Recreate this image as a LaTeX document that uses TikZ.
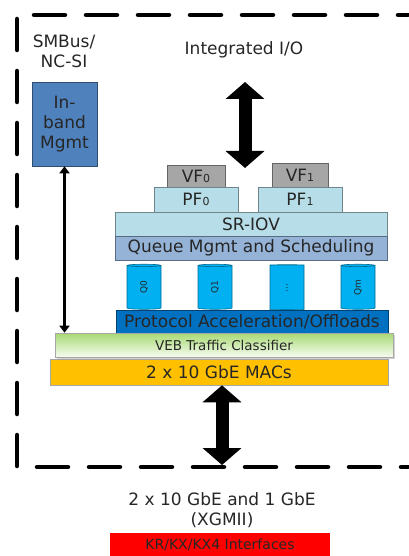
\documentclass[tikz,border=0pt]{standalone}
\usepackage{fontspec}
\setmainfont{DejaVu Sans}
\usetikzlibrary{shapes.geometric,arrows.meta,shadows}
\definecolor{txt}{RGB}{38,38,38}
\definecolor{mg}{RGB}{79,129,189}
\definecolor{vf}{RGB}{166,166,166}
\definecolor{pf}{RGB}{183,222,232}
\definecolor{qm}{RGB}{149,179,215}
\definecolor{cy}{RGB}{0,176,240}
\definecolor{pa}{RGB}{0,112,192}
\definecolor{vb}{RGB}{146,208,80}
\definecolor{mac}{RGB}{255,192,0}
\definecolor{kr}{RGB}{255,0,0}
\newcommand{\bigtxt}{\fontsize{17}{20}\selectfont}
\newcommand{\idx}[1]{{\fontsize{11}{11}\selectfont #1}}
\newcommand{\qlbl}[1]{\rotatebox{90}{#1}}

\begin{document}
\begin{tikzpicture}[x=1pt,y=-1pt,
    blk/.style={rectangle,draw=#1!60!black,line width=0.6pt,inner sep=0pt,fill=#1,text=txt,font=\bigtxt},
    cyl/.style={cylinder,shape border rotate=90,draw=cy!60!black,line width=0.6pt,fill=cy,minimum width=34pt,minimum height=45pt,aspect=0.3,inner sep=0pt,text=txt,font=\fontsize{9}{9}\selectfont},
    lbl/.style={align=center,text=txt,font=\bigtxt},
    fat/.style={line width=13pt,{Triangle[width=38pt,length=17pt]}-{Triangle[width=38pt,length=17pt]}},
    arr/.style={line width=2.5pt,{Triangle[width=10pt,length=7pt]}-{Triangle[width=10pt,length=7pt]}},
    dbox/.style={line width=4.5pt,line cap=round,dash pattern=on 31pt off 21pt,dash phase=21pt},
]
\useasboundingbox (0,0) rectangle (408,556);

% chip outline
\draw[dbox] (408,15) -- (17,15) -- (17,467) -- (408,467);

\node[lbl] (smb) at (64,51) {SMBus/\\NC-SI};
\node[lbl] (iio) at (244,50) {Integrated I/O};
\node[blk=mg,minimum width=65pt,minimum height=84pt,align=center] (mgmt) at (64.5,124) {In-\\band\\Mgmt};

\node[blk=vf,minimum width=58pt,minimum height=22pt] (vf0) at (196,176) {VF\idx{0}};
\node[blk=pf,minimum width=84pt,minimum height=25pt] (pf0) at (196,199.5) {PF\idx{0}};
\node[blk=vf,minimum width=56pt,minimum height=24pt] (vf1) at (300,175) {VF\idx{1}};
\node[blk=pf,minimum width=84pt,minimum height=25pt] (pf1) at (300,199.5) {PF\idx{1}};

\node[blk=pf,minimum width=272pt,minimum height=24pt] (sriov) at (251,224) {SR-IOV};
\node[blk=qm,minimum width=272pt,minimum height=24pt] (queue) at (251,248) {Queue Mgmt and Scheduling};

\node[cyl] (q0) at (144,287.5) {\qlbl{Q0}};
\node[cyl] (q1) at (215,287.5) {\qlbl{Q1}};
\node[cyl] (qd) at (287,287.5) {\qlbl{…}};
\node[cyl] (qm) at (358,287.5) {\qlbl{Qm}};

\node[blk=pa,minimum width=272pt,minimum height=23pt] (proto) at (252,321.5) {Protocol Acceleration/Offloads};
\node[blk=vb,draw=gray!70,top color=vb!80,bottom color=white!92!vb,minimum width=338pt,minimum height=24pt,font=\fontsize{13.5}{16}\selectfont,
      drop shadow={opacity=0.35,shadow xshift=1.5pt,shadow yshift=-1.5pt}] (veb) at (224,345) {VEB Traffic Classifier};
\node[blk=mac,draw=gray!70,minimum width=338pt,minimum height=26pt] (macs) at (219,372) {2 x 10 GbE MACs};

\node[lbl] (phy) at (222,510) {2 x 10 GbE and 1 GbE\\(XGMII)};
\node[blk=kr,draw=none,minimum width=220pt,minimum height=23pt,font=\fontsize{14}{16}\selectfont] (kr) at (220,544.5) {KR/KX/KX4 Interfaces};

\coordinate (host) at (245,82);
\coordinate (sfix) at (245,168);
\coordinate (wire) at (222,465);

\draw[fat] (sfix) -- (host);
\draw[fat] (wire |- macs.south) -- (wire);
\draw[arr] (mgmt.south) -- (mgmt.south |- veb.north);
\end{tikzpicture}
\end{document}
